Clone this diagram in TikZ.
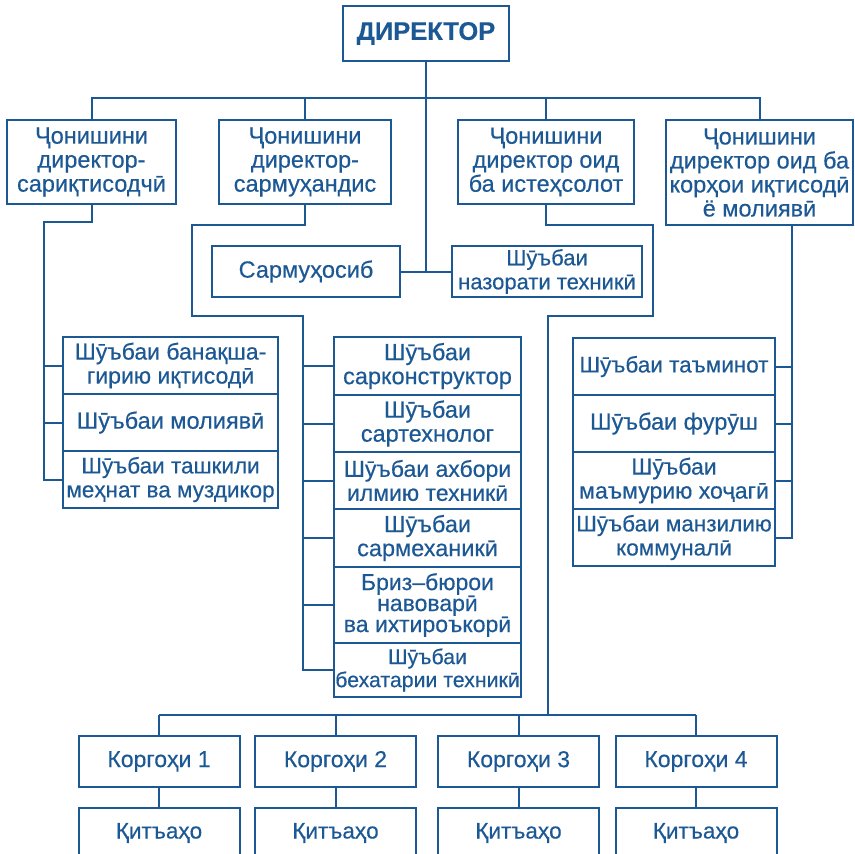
\documentclass[tikz,border=0pt]{standalone}
\usepackage{fontspec}
\setmainfont{Liberation Sans}[FakeBold=0.4]
\usepackage{xcolor}
\definecolor{orgblue}{RGB}{28,88,148}

\begin{document}
\begin{tikzpicture}[x=1pt,y=-1pt,
  box/.style={draw=orgblue,line width=2pt,text=orgblue,align=center,inner sep=0pt,
    font=\fontsize{23.5}{24}\selectfont},
  fs/.style={font=\fontsize{#1}{24}\selectfont},
  link/.style={draw=orgblue,line width=2pt}]
\useasboundingbox (0,0) rectangle (855,854);
\clip (0,0) rectangle (855,854);

\node[box,minimum width=166pt,minimum height=55pt,font=\bfseries\fontsize{25.5}{26}\selectfont] (dir) at (426,33.5) {ДИРЕКТОР};

\node[box,minimum width=169pt,minimum height=84pt] (zam1) at (91.5,162) {Ҷонишини\\директор-\\сариқтисодчӣ};
\node[box,minimum width=172pt,minimum height=84pt] (zam2) at (305,162) {Ҷонишини\\директор-\\сармуҳандис};
\node[box,minimum width=176pt,minimum height=84pt] (zam3) at (546,162) {Ҷонишини\\директор оид\\ба истеҳсолот};
\node[box,minimum width=187pt,minimum height=105pt] (zam4) at (759.5,172.5) {Ҷонишини\\директор оид ба\\корҳои иқтисодӣ\\ё молиявӣ};

\node[box,minimum width=188pt,minimum height=51pt] (muh) at (306,271.5) {Сармуҳосиб};
\node[box,fs=22,minimum width=190pt,minimum height=51pt] (naz) at (547,271.5) {Шӯъбаи\\назорати техникӣ};

\node[box,fs=23,minimum width=215pt,minimum height=57pt] (fin1) at (170.5,365.5) {Шӯъбаи банақша-\\гирию иқтисодӣ};
\node[box,minimum width=215pt,minimum height=57pt] (fin2) at (170.5,422.5) {Шӯъбаи молиявӣ};
\node[box,fs=22.5,minimum width=215pt,minimum height=57pt] (fin3) at (170.5,479.5) {Шӯъбаи ташкили\\меҳнат ва муздикор};

\node[box,minimum width=187pt,minimum height=58pt] (sek1) at (427.5,366) {Шӯъбаи\\сарконструктор};
\node[box,minimum width=187pt,minimum height=57pt] (sek2) at (427.5,423.5) {Шӯъбаи\\сартехнолог};
\node[box,fs=23,minimum width=187pt,minimum height=57pt] (sek3) at (427.5,480.5) {Шӯъбаи ахбори\\илмию техникӣ};
\node[box,minimum width=187pt,minimum height=58pt] (sek4) at (427.5,538) {Шӯъбаи\\сармеханикӣ};
\node[box,font=\fontsize{23}{21}\selectfont,minimum width=187pt,minimum height=76pt] (sek5) at (427.5,605) {Бриз–бюрои\\навоварӣ\\ва ихтироъкорӣ};
\node[box,font=\fontsize{21.3}{23}\selectfont,minimum width=187pt,minimum height=54pt] (sek6) at (427.5,670) {Шӯъбаи\\бехатарии техникӣ};

\node[box,fs=22.5,minimum width=202pt,minimum height=57pt] (tam1) at (674,366.5) {Шӯъбаи таъминот};
\node[box,minimum width=202pt,minimum height=57pt] (tam2) at (674,423.5) {Шӯъбаи фурӯш};
\node[box,fs=23,minimum width=202pt,minimum height=57pt] (tam3) at (674,480.5) {Шӯъбаи\\маъмурию хоҷагӣ};
\node[box,fs=22.5,minimum width=202pt,minimum height=57pt] (tam4) at (674,537.5) {Шӯъбаи манзилию\\коммуналӣ};

\node[box,fs=23,minimum width=161pt,minimum height=51pt] (kor1) at (159,761.5) {Коргоҳи 1};
\node[box,fs=23,minimum width=161pt,minimum height=51pt] (kor2) at (335.5,761.5) {Коргоҳи 2};
\node[box,fs=23,minimum width=161pt,minimum height=51pt] (kor3) at (518.5,761.5) {Коргоҳи 3};
\node[box,fs=23,minimum width=161pt,minimum height=51pt] (kor4) at (696,761.5) {Коргоҳи 4};
\node[box,fs=22.5,minimum width=161pt,minimum height=50pt] (qit1) at (159,833) {Қитъаҳо};
\node[box,fs=22.5,minimum width=161pt,minimum height=50pt] (qit2) at (335.5,833) {Қитъаҳо};
\node[box,fs=22.5,minimum width=161pt,minimum height=50pt] (qit3) at (518.5,833) {Қитъаҳо};
\node[box,fs=22.5,minimum width=161pt,minimum height=50pt] (qit4) at (696,833) {Қитъаҳо};

\coordinate (bus) at (0,98);
\draw[link] (zam1.north) -- (zam1.north |- bus) -- (zam4.north |- bus) -- (zam4.north);
\draw[link] (zam2.north) -- (zam2.north |- bus);
\draw[link] (zam3.north) -- (zam3.north |- bus);
\draw[link] (dir.south) -- (dir.south |- muh.east);
\draw[link] (muh.east) -- (naz.west);

\coordinate (lbus) at (44,222);
\draw[link] (zam1.south) -- (zam1.south |- lbus) -- (lbus) -- (lbus |- fin3.west) -- (fin3.west);
\foreach \i in {1,2}
  \draw[link] (lbus |- fin\i.west) -- (fin\i.west);

\coordinate (mbend) at (192,225);
\coordinate (mbus) at (303,316);
\draw[link] (zam2.south) -- (zam2.south |- mbend) -- (mbend) -- (mbend |- mbus) -- (mbus) -- (mbus |- sek6.west) -- (sek6.west);
\foreach \i in {1,...,5}
  \draw[link] (mbus |- sek\i.west) -- (sek\i.west);

\coordinate (rbus) at (792,225);
\draw[link] (rbus) -- (rbus |- tam4.east) -- (tam4.east);
\foreach \i in {1,...,3}
  \draw[link] (rbus |- tam\i.east) -- (tam\i.east);

\coordinate (bbend) at (653,225);
\coordinate (bbus) at (548,316);
\coordinate (kbus) at (0,715);
\draw[link] (zam3.south) -- (zam3.south |- bbend) -- (bbend) -- (bbend |- bbus) -- (bbus) -- (bbus |- kbus);
\draw[link] (kor1.north |- kbus) -- (kor4.north |- kbus);
\foreach \i in {1,...,4}
  \draw[link] (kor\i.north |- kbus) -- (kor\i.north) (kor\i.south) -- (qit\i.north);
\end{tikzpicture}
\end{document}
